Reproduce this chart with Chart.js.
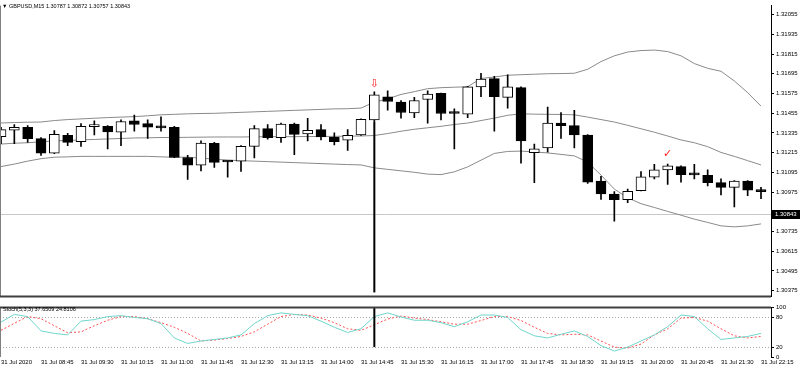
<!DOCTYPE html>
<html>
<head>
<meta charset="utf-8">
<script src="https://cdn.jsdelivr.net/npm/chart.js@4.4.1/dist/chart.umd.min.js"></script>
<style>
  body { margin: 0; background: #fff; }
  #wrap { position: relative; width: 800px; height: 369px; overflow: hidden; }
  canvas { position: absolute; left: 0; }
  .lbl { position: absolute; font: 5.5px "Liberation Sans", Arial, sans-serif; color: #000; white-space: pre; line-height: 8px; }
</style>
</head>
<body>
<div id="wrap">
  <canvas id="main" width="800" height="302" style="top:0"></canvas>
  <canvas id="stoch" width="800" height="67" style="top:302px"></canvas>
  <div class="lbl" style="left:2px;top:2px">▼ GBPUSD,M15 1.30787 1.30872 1.30757 1.30843</div>
  <div class="lbl" style="left:3px;top:305px">Stoch(5,3,3) 37.6509 24.8106</div>
</div>
<script>
// GBPUSD M15, 31 Jul 2020 08:00 .. 22:15, one entry per bar
const opens = [1.31312, 1.31351, 1.31369, 1.31300, 1.31212, 1.31320, 1.31281, 1.31373, 1.31375, 1.31339,
  1.31408, 1.31391, 1.31367, 1.31369, 1.31185, 1.31139, 1.31271, 1.31160, 1.31163, 1.31253,
  1.31361, 1.31306, 1.31388, 1.31329, 1.31355, 1.31310, 1.31291, 1.31322, 1.31414, 1.31555,
  1.31522, 1.31457, 1.31538, 1.31575, 1.31455, 1.31449, 1.31614, 1.31665, 1.31551, 1.31610,
  1.31214, 1.31244, 1.31394, 1.31379, 1.31322, 1.31041, 1.30963, 1.30928, 1.30983, 1.31065,
  1.31110, 1.31130, 1.31082, 1.31077, 1.31032, 1.31003, 1.31041, 1.30983]
const highs = [1.31369, 1.31385, 1.31379, 1.31306, 1.31349, 1.31332, 1.31391, 1.31408, 1.31379, 1.31414,
  1.31443, 1.31414, 1.31433, 1.31375, 1.31198, 1.31286, 1.31277, 1.31163, 1.31257, 1.31379,
  1.31385, 1.31394, 1.31394, 1.31424, 1.31385, 1.31335, 1.31355, 1.31420, 1.31585, 1.31591,
  1.31532, 1.31551, 1.31591, 1.31578, 1.31482, 1.31619, 1.31698, 1.31679, 1.31688, 1.31616,
  1.31267, 1.31492, 1.31459, 1.31473, 1.31325, 1.31071, 1.30977, 1.30993, 1.31100, 1.31144,
  1.31145, 1.31134, 1.31144, 1.31110, 1.31055, 1.31045, 1.31045, 1.31003]
const lows = [1.31269, 1.31269, 1.31277, 1.31198, 1.31208, 1.31257, 1.31253, 1.31322, 1.31238, 1.31257,
  1.31345, 1.31302, 1.31345, 1.31184, 1.31051, 1.31104, 1.31124, 1.31065, 1.31100, 1.31182,
  1.31297, 1.31277, 1.31202, 1.31286, 1.31292, 1.31261, 1.31228, 1.31320, 1.31404, 1.31473,
  1.31424, 1.31428, 1.31394, 1.31414, 1.31238, 1.31428, 1.31555, 1.31345, 1.31486, 1.31150,
  1.31032, 1.31218, 1.31302, 1.31244, 1.31028, 1.30930, 1.30797, 1.30910, 1.30981, 1.31055,
  1.31022, 1.31035, 1.31055, 1.31012, 1.30957, 1.30885, 1.30953, 1.30934]
const closes = [1.31355, 1.31369, 1.31300, 1.31212, 1.31326, 1.31277, 1.31375, 1.31376, 1.31341, 1.31404,
  1.31386, 1.31369, 1.31365, 1.31185, 1.31139, 1.31273, 1.31155, 1.31158, 1.31253, 1.31361,
  1.31306, 1.31388, 1.31326, 1.31351, 1.31310, 1.31282, 1.31320, 1.31418, 1.31567, 1.31526,
  1.31459, 1.31532, 1.31571, 1.31453, 1.31453, 1.31616, 1.31663, 1.31555, 1.31616, 1.31286,
  1.31238, 1.31394, 1.31379, 1.31322, 1.31035, 1.30963, 1.30928, 1.30979, 1.31067, 1.31110,
  1.31134, 1.31081, 1.31079, 1.31032, 1.31003, 1.31041, 1.30987, 1.30977]

// Bollinger bands
const bbUpper = [1.31395, 1.31398, 1.31400, 1.31401, 1.31410, 1.31416, 1.31420, 1.31424, 1.31428, 1.31431,
  1.31434, 1.31439, 1.31445, 1.31448, 1.31451, 1.31453, 1.31454, 1.31457, 1.31460, 1.31463,
  1.31466, 1.31469, 1.31472, 1.31475, 1.31478, 1.31481, 1.31482, 1.31486, 1.31522, 1.31542,
  1.31569, 1.31586, 1.31604, 1.31610, 1.31613, 1.31616, 1.31666, 1.31675, 1.31686, 1.31689,
  1.31692, 1.31695, 1.31696, 1.31698, 1.31722, 1.31769, 1.31804, 1.31827, 1.31836, 1.31839,
  1.31830, 1.31804, 1.31757, 1.31728, 1.31710, 1.31651, 1.31580, 1.31498]
const bbMiddle = [1.31267, 1.31272, 1.31275, 1.31281, 1.31286, 1.31289, 1.31292, 1.31295, 1.31298, 1.31301,
  1.31304, 1.31305, 1.31307, 1.31307, 1.31308, 1.31309, 1.31310, 1.31310, 1.31310, 1.31311,
  1.31312, 1.31312, 1.31312, 1.31313, 1.31313, 1.31314, 1.31315, 1.31316, 1.31319, 1.31331,
  1.31345, 1.31357, 1.31366, 1.31375, 1.31386, 1.31395, 1.31410, 1.31425, 1.31442, 1.31451,
  1.31449, 1.31448, 1.31447, 1.31445, 1.31431, 1.31416, 1.31401, 1.31381, 1.31360, 1.31339,
  1.31316, 1.31292, 1.31275, 1.31251, 1.31216, 1.31192, 1.31166, 1.31140]
const bbLower = [1.31130, 1.31145, 1.31163, 1.31178, 1.31187, 1.31189, 1.31192, 1.31192, 1.31192, 1.31192,
  1.31192, 1.31192, 1.31189, 1.31187, 1.31187, 1.31181, 1.31175, 1.31169, 1.31166, 1.31163,
  1.31160, 1.31157, 1.31154, 1.31151, 1.31148, 1.31145, 1.31142, 1.31140, 1.31122, 1.31113,
  1.31104, 1.31095, 1.31084, 1.31081, 1.31098, 1.31128, 1.31169, 1.31210, 1.31222, 1.31224,
  1.31219, 1.31213, 1.31204, 1.31195, 1.31157, 1.31078, 1.30993, 1.30940, 1.30904, 1.30881,
  1.30857, 1.30834, 1.30810, 1.30790, 1.30769, 1.30763, 1.30769, 1.30781]

// Stochastic(5,3,3)
const stochMain = [70.7, 86.2, 81.9, 52.8, 47.8, 44.7, 72.6, 75.7, 81.9, 83.7,
  80, 77.5, 67.6, 38.6, 27.4, 32.4, 35.5, 38.6, 44.7, 67.6,
  83.7, 89.3, 86.2, 83.7, 72.6, 60.2, 49.7, 57.1, 81.9, 89.3,
  81, 74.4, 74.4, 69.5, 61.4, 71.3, 85, 85, 80, 55.3,
  42.9, 38.6, 46, 52.8, 41.6, 23.1, 12, 20, 32.4, 44.7,
  61.4, 85, 81.9, 57.1, 35.5, 38.6, 41.6, 47.8]
const stochSignal = [54, 68.2, 81.9, 77.5, 63.3, 49.1, 50.9, 63.3, 74.4, 81.9,
  81.9, 77.5, 69.5, 60.2, 47.8, 32.4, 34.2, 37.3, 41.6, 50.9,
  66.4, 81.9, 86.2, 84.9, 78.8, 69.5, 57.1, 54, 65.2, 76.9,
  82.8, 78.8, 75.7, 71.3, 66.4, 66.4, 73.8, 81.9, 81.9, 73.8,
  60.2, 47.8, 44.7, 46, 44.7, 32.4, 20, 18.1, 26.2, 44.7,
  57.1, 78.8, 80, 72.6, 57.1, 42.9, 38.6, 41.6]

const priceTicks = [1.32055, 1.31935, 1.31815, 1.31695, 1.31575, 1.31455, 1.31335,
  1.31215, 1.31095, 1.30975, 1.30735, 1.30615, 1.30495, 1.30375]
const stochTicks = [100, 80, 20, 0]
const stochLevels = [80, 20]
const timeLabels = ["31 Jul 2020", "31 Jul 08:45", "31 Jul 09:30", "31 Jul 10:15", "31 Jul 11:00",
  "31 Jul 11:45", "31 Jul 12:30", "31 Jul 13:15", "31 Jul 14:00", "31 Jul 14:45",
  "31 Jul 15:30", "31 Jul 16:15", "31 Jul 17:00", "31 Jul 17:45", "31 Jul 18:30",
  "31 Jul 19:15", "31 Jul 20:00", "31 Jul 20:45", "31 Jul 21:30", "31 Jul 22:15"]
const BARS_PER_LABEL = 3

const bid = 1.30843
const vlineBar = 28
const vlineStochEnd = 20
const markers = [
  { bar: 28, price: 1.31633, glyph: "⇩" },
  { bar: 50, price: 1.31205, glyph: "✓" }
]

const FONT = { family: "'Liberation Sans', Arial, sans-serif", size: 6 }
const X_MIN = -0.075, X_MAX = 57.75
const AXIS_W = 29

Chart.defaults.font.family = FONT.family
Chart.defaults.font.size = FONT.size
Chart.defaults.color = "#000"

const pts = arr => arr.map((y, i) => ({ x: i, y }))
const bandLine = arr => ({
  type: "line", data: pts(arr), borderColor: "#8a8a8a", borderWidth: 1,
  pointRadius: 0, tension: 0, order: 3
})

const bidPlugin = {
  id: "bid",
  beforeDatasetsDraw(chart) {
    const { ctx, chartArea: a, scales: { y } } = chart
    const py = Math.round(y.getPixelForValue(bid)) + 0.5
    ctx.save()
    ctx.strokeStyle = "#c8c8c8"
    ctx.lineWidth = 1
    ctx.beginPath(); ctx.moveTo(a.left, py); ctx.lineTo(a.right, py); ctx.stroke()
    ctx.restore()
  },
  afterDraw(chart) {
    const { ctx, chartArea: a, scales: { y } } = chart
    const py = Math.round(y.getPixelForValue(bid))
    ctx.save()
    ctx.fillStyle = "#000"
    ctx.fillRect(a.right + 1, py - 4, 28, 9)
    ctx.fillStyle = "#fff"
    ctx.font = `${FONT.size}px ${FONT.family}`
    ctx.textBaseline = "middle"
    ctx.fillText(bid.toFixed(5), a.right + 4, py + 0.5)
    ctx.restore()
  }
}

const markerPlugin = {
  id: "markers",
  afterDatasetsDraw(chart) {
    const { ctx, scales: { x, y } } = chart
    ctx.save()
    ctx.fillStyle = "#ff1a1a"
    ctx.font = "11px 'DejaVu Sans'"
    ctx.textAlign = "center"
    ctx.textBaseline = "middle"
    markers.forEach(m => ctx.fillText(m.glyph, x.getPixelForValue(m.bar), y.getPixelForValue(m.price)))
    ctx.restore()
  }
}

const vlineMain = {
  id: "vlineMain",
  afterDatasetsDraw(chart) {
    const { ctx, chartArea: a, scales: { x, y } } = chart
    const px = x.getPixelForValue(vlineBar)
    ctx.save()
    ctx.strokeStyle = "#000"; ctx.lineWidth = 2
    ctx.beginPath(); ctx.moveTo(px, y.getPixelForValue(lows[vlineBar])); ctx.lineTo(px, a.bottom - 4); ctx.stroke()
    ctx.restore()
  }
}

const frameMain = {
  id: "frameMain",
  afterDraw(chart) {
    const { ctx, chartArea: a } = chart
    ctx.save()
    ctx.strokeStyle = "#808080"; ctx.lineWidth = 1
    ctx.beginPath(); ctx.moveTo(0.5, a.top); ctx.lineTo(0.5, a.bottom); ctx.stroke()
    ctx.strokeStyle = "#404040"; ctx.lineWidth = 2
    ctx.beginPath(); ctx.moveTo(0, a.bottom); ctx.lineTo(a.right, a.bottom); ctx.stroke()
    ctx.restore()
  }
}

new Chart(document.getElementById("main"), {
  type: "bar",
  data: {
    datasets: [
      bandLine(bbUpper), bandLine(bbMiddle), bandLine(bbLower),
      {
        label: "wick", data: lows.map((l, i) => ({ x: i, y: [l, highs[i]] })),
        backgroundColor: "#000", barThickness: 1, grouped: false, order: 2
      },
      {
        label: "body", data: opens.map((o, i) => ({ x: i, y: [o, closes[i]] })),
        backgroundColor: opens.map((o, i) => closes[i] > o ? "#fff" : "#000"),
        borderColor: "#000", borderWidth: 1, borderSkipped: false,
        barThickness: 10, minBarLength: 2, grouped: false, order: 1
      }
    ]
  },
  options: {
    responsive: false, animation: false, events: [],
    layout: { padding: 0 },
    plugins: { legend: { display: false }, tooltip: { enabled: false } },
    scales: {
      x: { type: "linear", min: X_MIN, max: X_MAX, offset: false, display: false },
      y: {
        position: "right", min: 1.303397, max: 1.321097,
        afterFit: s => { s.width = AXIS_W },
        afterBuildTicks: s => { s.ticks = priceTicks.map(value => ({ value })) },
        ticks: { callback: v => v.toFixed(5), padding: 2 },
        grid: { drawOnChartArea: false, tickLength: 3, color: "#000" },
        border: { color: "#000" }
      }
    }
  },
  plugins: [bidPlugin, markerPlugin, vlineMain, frameMain]
})

const stochExtras = {
  id: "stochExtras",
  beforeDatasetsDraw(chart) {
    const { ctx, chartArea: a, scales: { y } } = chart
    ctx.save()
    ctx.strokeStyle = "#a8a8a8"; ctx.lineWidth = 1; ctx.setLineDash([1, 2])
    stochLevels.forEach(v => {
      const py = Math.round(y.getPixelForValue(v)) + 0.5
      ctx.beginPath(); ctx.moveTo(a.left, py); ctx.lineTo(a.right, py); ctx.stroke()
    })
    ctx.restore()
  },
  afterDraw(chart) {
    const { ctx, chartArea: a, scales: { x, y } } = chart
    ctx.save()
    ctx.strokeStyle = "#000"; ctx.lineWidth = 2
    const px = x.getPixelForValue(vlineBar)
    ctx.beginPath(); ctx.moveTo(px, a.top); ctx.lineTo(px, y.getPixelForValue(vlineStochEnd)); ctx.stroke()
    ctx.strokeStyle = "#808080"; ctx.lineWidth = 1
    ctx.beginPath(); ctx.moveTo(0.5, a.top); ctx.lineTo(0.5, a.bottom); ctx.stroke()
    ctx.strokeStyle = "#404040"; ctx.lineWidth = 2
    ctx.beginPath(); ctx.moveTo(0, a.top); ctx.lineTo(a.right, a.top); ctx.stroke()
    ctx.restore()
  }
}

new Chart(document.getElementById("stoch"), {
  type: "line",
  data: {
    datasets: [
      { data: pts(stochMain), borderColor: "#6fd6cc", borderWidth: 1, pointRadius: 0, tension: 0 },
      { data: pts(stochSignal), borderColor: "#ff5050", borderWidth: 1, borderDash: [2, 2], pointRadius: 0, tension: 0 }
    ]
  },
  options: {
    responsive: false, animation: false, events: [],
    layout: { padding: { top: 3 } },
    plugins: { legend: { display: false }, tooltip: { enabled: false } },
    scales: {
      x: {
        type: "linear", min: X_MIN, max: X_MAX, offset: false,
        afterFit: s => { s.height = 12; s.paddingLeft = 0; s.paddingRight = 0 },
        afterBuildTicks: s => { s.ticks = timeLabels.map((_, k) => ({ value: k * BARS_PER_LABEL })) },
        ticks: {
          callback: v => timeLabels[Math.round(v / BARS_PER_LABEL)],
          align: "start", maxRotation: 0, autoSkip: false, padding: 2
        },
        grid: { display: false, drawTicks: false },
        border: { display: false }
      },
      y: {
        position: "right", min: 0, max: 100,
        afterFit: s => { s.width = AXIS_W },
        afterBuildTicks: s => { s.ticks = stochTicks.map(value => ({ value })) },
        ticks: { padding: 2 },
        grid: { drawOnChartArea: false, tickLength: 3, color: "#000" },
        border: { color: "#000" }
      }
    }
  },
  plugins: [stochExtras]
})
</script>
</body>
</html>
